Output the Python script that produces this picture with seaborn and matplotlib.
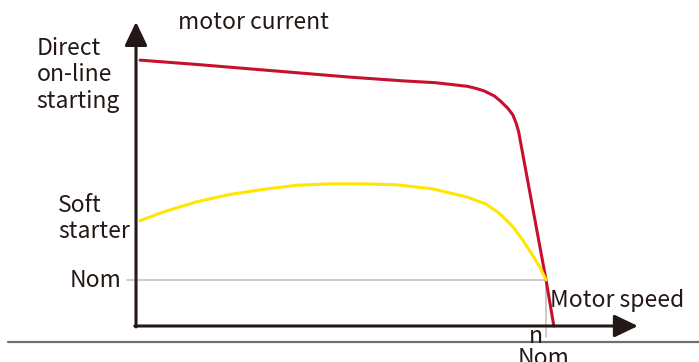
import matplotlib
matplotlib.use("Agg")
import matplotlib.pyplot as plt
import seaborn as sns
import pandas as pd

sns.set_theme(style="white")
plt.rcParams['font.family'] = ['Noto Sans CJK SC', 'DejaVu Sans']

# speed in % of nominal speed, current in multiples of nominal current
dol_speed = [0.98, 15.6, 40.0, 52.2, 64.9, 72.9, 80.9, 83.1, 84.9, 87.4, 89.0, 90.7, 91.9, 92.7, 93.3, 100.0, 101.9]
dol_current = [5.78, 5.68, 5.50, 5.41, 5.33, 5.29, 5.21, 5.16, 5.11, 5.00, 4.88, 4.73, 4.59, 4.41, 4.23, 1.0, 0.0]

soft_speed = [0.98, 6.7, 14.8, 22.9, 31.0, 39.2, 47.3, 55.4, 63.6, 72.4, 80.5, 85.4, 88.6, 91.9, 94.3, 96.7, 98.5, 100.0]
soft_current = [2.29, 2.48, 2.70, 2.86, 2.97, 3.06, 3.09, 3.09, 3.07, 2.98, 2.81, 2.65, 2.45, 2.16, 1.87, 1.54, 1.28, 1.0]

ylabels = ["Direct\non-line\nstarting", "Soft\nstarter", "Nom"]
title_text = "motor current"
xlabel_text = "Motor speed"
xnom_texts = ["n", "Nom"]

df = pd.concat([
    pd.DataFrame({"speed": dol_speed, "current": dol_current, "curve": "DOL"}),
    pd.DataFrame({"speed": soft_speed, "current": soft_current, "curve": "Soft"}),
])

fig = plt.figure(figsize=(6.99, 3.62), dpi=100)
ax = fig.add_axes([0, 0, 1, 1])
ax.set_xlim(-33.17, 137.3)
ax.set_ylim(-0.7826, 7.087)
ax.axis("off")

dark = "#231815"
grey = "#bdbdbd"

# nominal guide lines
ax.plot([-2.2, 100.0], [1.0, 1.0], color=grey, lw=1.1, zorder=1)
ax.plot([100.0, 100.0], [1.0, -0.24], color=grey, lw=1.1, zorder=1)

sns.lineplot(data=df, x="speed", y="current", hue="curve", sort=False,
             palette={"DOL": "#c8102e", "Soft": "#ffe600"}, lw=2.2,
             legend=False, ax=ax, zorder=3)
for ln in ax.get_lines():
    ln.set_solid_joinstyle("round")

# axes with arrows
arrow = dict(arrowstyle="-|>,head_length=1.0,head_width=0.48", mutation_scale=14.4,
             color=dark, lw=2.2, shrinkA=0, shrinkB=0)
ax.annotate("", xy=(0, 6.61), xytext=(0, -0.02), arrowprops=arrow, zorder=4)
ax.annotate("", xy=(122.4, 0), xytext=(-0.3, 0), arrowprops=arrow, zorder=4)

# bottom separator
ax.plot([-31.2, 137.3], [-0.35, -0.35], color="#707070", lw=1.6, clip_on=False)

fs = 16.5
ax.text(10.2, 6.587, title_text, fontsize=fs, color=dark, va="center", ha="left")
ax.text(-24.2, 5.46, ylabels[0], fontsize=fs, color=dark, va="center", ha="left",
        linespacing=1.18)
ax.text(-19.0, 2.34, ylabels[1], fontsize=fs, color=dark, va="center", ha="left",
        linespacing=1.18)
ax.text(-3.6, 1.0, ylabels[2], fontsize=fs, color=dark, va="center", ha="right")
ax.text(101.0, 0.56, xlabel_text, fontsize=fs, color=dark, va="center", ha="left")
ax.text(97.6, -0.23, xnom_texts[0], fontsize=fs, color=dark, va="center", ha="center")
ax.text(99.5, -0.70, xnom_texts[1], fontsize=fs, color=dark, va="center", ha="center")

fig.savefig("out.png", dpi=100)
